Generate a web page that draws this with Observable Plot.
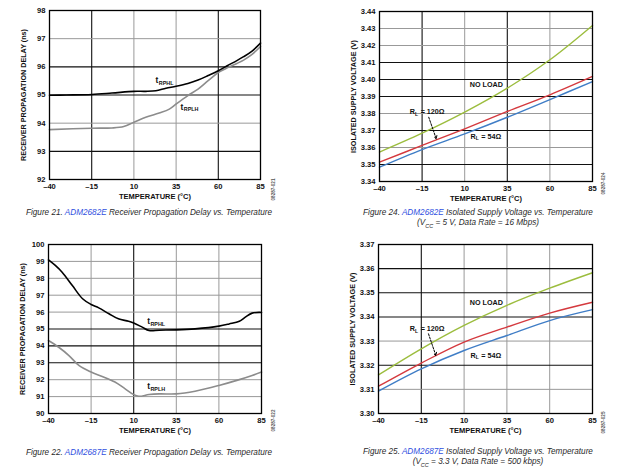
<!DOCTYPE html>
<html><head><meta charset="utf-8">
<script src="https://cdn.jsdelivr.net/npm/d3@7"></script>
<script src="https://cdn.jsdelivr.net/npm/@observablehq/plot@0.6"></script>
<style>
body{margin:0;background:#fff;}
#root{position:relative;width:620px;height:473px;overflow:hidden;background:#fff;}
.panel{position:absolute;}
.cap{position:absolute;font-family:"Liberation Sans",Arial,sans-serif;font-style:italic;font-size:8.2px;line-height:10px;color:#2a2a2a;text-align:center;white-space:nowrap;}
.cap .p{color:#3050e0;}
</style></head><body><div id="root"></div>
<script>
// ---------- data ----------
const xTicks = [-40, -15, 10, 35, 60, 85];

// Figure 21: ADM2682E receiver propagation delay (ns)
const f21TempHL = [-40, -30, -15, -3, 10, 17, 23, 29, 35, 42, 48, 54, 60, 65, 71, 75, 80, 85];
const f21RPHL   = [94.99, 95.0, 95.02, 95.07, 95.13, 95.13, 95.15, 95.24, 95.31, 95.41, 95.53, 95.69, 95.86, 96.03, 96.22, 96.36, 96.56, 96.84];
const f21TempLH = [-40, -15, -3, 4, 10, 17, 25, 31, 35, 42, 48, 54, 60, 66, 71, 75, 80, 85];
const f21RPLH   = [93.77, 93.82, 93.83, 93.88, 94.03, 94.21, 94.36, 94.5, 94.68, 94.98, 95.21, 95.51, 95.8, 95.98, 96.12, 96.24, 96.44, 96.72];
const f21YTicks = [92, 93, 94, 95, 96, 97, 98];

// Figure 22: ADM2687E receiver propagation delay (ns)
const f22TempHL = [-40, -36, -32, -26, -20, -15, -10.5, -4.5, 1, 7, 10, 15, 19, 25, 35, 46, 60, 66, 72, 75.5, 79.5, 85];
const f22RPHL   = [99.09, 98.76, 98.36, 97.57, 96.79, 96.45, 96.25, 95.9, 95.6, 95.46, 95.35, 95.11, 94.91, 94.93, 94.95, 95.01, 95.17, 95.3, 95.46, 95.7, 95.94, 95.98];
const f22TempLH = [-40, -34, -28, -22, -15, -8.5, -1, 5, 10, 13, 19, 25, 35, 46, 60, 71.5, 79.5, 85];
const f22RPLH   = [94.32, 93.92, 93.43, 92.83, 92.45, 92.19, 91.86, 91.46, 91.12, 91.02, 91.12, 91.16, 91.16, 91.32, 91.66, 91.99, 92.25, 92.45];
const f22YTicks = [90, 91, 92, 93, 94, 95, 96, 97, 98, 99, 100];

// Figure 24: ADM2682E isolated supply voltage (V), VCC = 5 V
const f24Temp   = [-40, -15, 10, 35, 60, 85];
const f24NoLoad = [3.3573, 3.3684, 3.3808, 3.3949, 3.4116, 3.4318];
const f24R120   = [3.3514, 3.3612, 3.3710, 3.3812, 3.3910, 3.4018];
const f24R54    = [3.3484, 3.3588, 3.3680, 3.3778, 3.3882, 3.3988];
const f24YTicks = [3.34, 3.35, 3.36, 3.37, 3.38, 3.39, 3.40, 3.41, 3.42, 3.43, 3.44];

// Figure 25: ADM2687E isolated supply voltage (V), VCC = 3.3 V
const f25Temp   = [-40, -15, 10, 35, 60, 85];
const f25NoLoad = [3.3160, 3.3268, 3.3365, 3.3448, 3.3519, 3.3583];
const f25R120   = [3.3113, 3.3209, 3.3296, 3.3358, 3.3416, 3.3461];
const f25R54    = [3.3093, 3.3185, 3.3261, 3.3323, 3.3385, 3.3430];
const f25YTicks = [3.30, 3.31, 3.32, 3.33, 3.34, 3.35, 3.36, 3.37];

// annotation anchors (data coordinates: temperature, value)
const f21LabelTemp = [22.8, 37.6], f21LabelVal = [95.52, 94.57], delayLabelSub = ["RPHL", "RPLH"];
const f22LabelTemp = [17.9, 17.9], f22LabelVal = [95.44, 91.60];
const f24LabelTemp = [13.0, -22.2, 13.4], f24LabelVal = [3.3971, 3.3808, 3.3665];
const f25LabelTemp = [13.3, -21.7, 13.7], f25LabelVal = [3.3458, 3.3351, 3.3240];
const loadLabelText = ["NO LOAD", "R", "R"], loadLabelSub = ["", "L", "L"], loadLabelRest = ["", "= 120Ω", "= 54Ω"];
const f24Arrow = [-11.1, 3.3778, -6.7, 3.3651];
const f25Arrow = [-10.8, 3.3330, -6.5, 3.3240];

// ---------- drawing ----------
const FONT = '"Liberation Sans", Arial, Helvetica, sans-serif';
const dash = d => d < 0 ? "\u2013" + Math.abs(d) : String(d);

function makePanel(cfg) {
  const {w, h, ml, mr, mt, mb, yDomain, yTicks, yFmt, yLabel, darkX, darkY, series, code, codeDy, codeDx, extra} = cfg;
  const isDark = (arr, v) => arr.some(a => Math.abs(a - v) < 1e-9);
  const innerX = xTicks.slice(1, -1);
  const innerY = yTicks.slice(1, -1);
  const marks = [
    Plot.ruleX(innerX, {stroke: d => isDark(darkX, d) ? "#111" : "#999", strokeWidth: d => isDark(darkX, d) ? 1.1 : 1}),
    Plot.ruleY(innerY, {stroke: d => isDark(darkY, d) ? "#111" : "#999", strokeWidth: d => isDark(darkY, d) ? 1.1 : 1}),
    ...series.map(s => Plot.line(s.t.map((t, i) => ({t, v: s.v[i]})), {x: "t", y: "v", stroke: s.color, strokeWidth: s.width, curve: "catmull-rom"})),
    Plot.frame({stroke: "#000", strokeWidth: 1.3}),
    Plot.axisX({ticks: xTicks, tickSize: 0, tickPadding: 4, tickFormat: dash, label: null}),
    Plot.axisY({ticks: yTicks, tickSize: 0, tickPadding: 4, tickFormat: yFmt, label: null}),
    Plot.text(["TEMPERATURE (°C)"], {frameAnchor: "bottom", dy: 17, text: d => d, fontSize: 7.5, fontWeight: "bold", lineAnchor: "middle"}),
    Plot.text([yLabel], {frameAnchor: "left", dx: -26, rotate: -90, text: d => d, fontSize: 7.2, fontWeight: "bold", textAnchor: "middle", lineAnchor: "middle"}),
    Plot.text([code], {frameAnchor: "bottom-right", dx: codeDx, dy: codeDy, rotate: -90, text: d => d, fontSize: 4.6, fill: "#555", textAnchor: "middle", lineAnchor: "middle"}),
    ...extra
  ];
  return Plot.plot({
    width: w, height: h, marginLeft: ml, marginRight: mr, marginTop: mt, marginBottom: mb,
    x: {domain: [-40, 85], label: null},
    y: {domain: yDomain, label: null},
    style: {fontFamily: FONT, fontSize: "7.6px", fontWeight: "bold", color: "#111", background: "transparent", overflow: "visible"},
    marks
  });
}

function delayLabels(tArr, vArr) {
  const idx = tArr.map((_, i) => i);
  return [
    Plot.text(idx, {x: i => tArr[i], y: i => vArr[i], text: () => "t", textAnchor: "start", fontSize: 8.5, fontWeight: "bold"}),
    Plot.text(idx, {x: i => tArr[i], y: i => vArr[i], text: i => delayLabelSub[i], textAnchor: "start", dx: 3.3, dy: 2.6, fontSize: 5.4, fontWeight: "bold"})
  ];
}
function loadLabels(tArr, vArr, arrow) {
  const idx = tArr.map((_, i) => i);
  return [
    Plot.text(idx, {x: i => tArr[i], y: i => vArr[i], text: i => loadLabelText[i], textAnchor: "start", fontSize: 7.2, fontWeight: "bold"}),
    Plot.text(idx, {x: i => tArr[i], y: i => vArr[i], text: i => loadLabelSub[i], textAnchor: "start", dx: 5.2, dy: 2.2, fontSize: 5, fontWeight: "bold"}),
    Plot.text(idx, {x: i => tArr[i], y: i => vArr[i], text: i => loadLabelRest[i], textAnchor: "start", dx: 10.8, fontSize: 7.2, fontWeight: "bold"}),
    Plot.arrow([arrow], {x1: d => d[0], y1: d => d[1], x2: d => d[2], y2: d => d[3], stroke: "#000", strokeWidth: 1, strokeDasharray: "2,1.4", headLength: 5})
  ];
}

const root = document.getElementById("root");
function place(svg, left, top) {
  const d = document.createElement("div");
  d.className = "panel"; d.style.left = left + "px"; d.style.top = top + "px";
  d.appendChild(svg); root.appendChild(d);
}
function caption(html, left, top, width) {
  const d = document.createElement("div");
  d.className = "cap"; d.style.left = left + "px"; d.style.top = top + "px"; d.style.width = width + "px";
  d.innerHTML = html; root.appendChild(d);
}

const int = d => String(d);
const two = d3.format(".2f");

place(makePanel({
  w: 310, h: 230, ml: 49, mr: 50, mt: 10, mb: 51,
  yDomain: [92, 98], yTicks: f21YTicks, yFmt: int, yLabel: "RECEIVER PROPAGATION DELAY (ns)",
  darkX: [-15, 60], darkY: [96, 95, 93],
  series: [
    {t: f21TempLH, v: f21RPLH, color: "#8c8c8c", width: 1.6},
    {t: f21TempHL, v: f21RPHL, color: "#000", width: 1.6}
  ],
  code: "08287-021", codeDx: 13, codeDy: 10,
  extra: delayLabels(f21LabelTemp, f21LabelVal)
}), 0, 0);

place(makePanel({
  w: 310, h: 230, ml: 69, mr: 28, mt: 11, mb: 49,
  yDomain: [3.34, 3.44], yTicks: f24YTicks, yFmt: two, yLabel: "ISOLATED SUPPLY VOLTAGE (V)",
  darkX: [-15, 35], darkY: [3.41, 3.40, 3.39, 3.37, 3.35],
  series: [
    {t: f24Temp, v: f24NoLoad, color: "#9cbd3e", width: 1.4},
    {t: f24Temp, v: f24R120, color: "#d4393e", width: 1.4},
    {t: f24Temp, v: f24R54, color: "#3f7dc6", width: 1.4}
  ],
  code: "08287-024", codeDx: 11, codeDy: 2,
  extra: loadLabels(f24LabelTemp, f24LabelVal, f24Arrow)
}), 310, 0);

place(makePanel({
  w: 310, h: 243, ml: 48, mr: 49, mt: 14, mb: 60,
  yDomain: [90, 100], yTicks: f22YTicks, yFmt: int, yLabel: "RECEIVER PROPAGATION DELAY (ns)",
  darkX: [10], darkY: [95, 94, 93],
  series: [
    {t: f22TempLH, v: f22RPLH, color: "#8c8c8c", width: 1.6},
    {t: f22TempHL, v: f22RPHL, color: "#000", width: 1.6}
  ],
  code: "08287-022", codeDx: 12, codeDy: 7,
  extra: delayLabels(f22LabelTemp, f22LabelVal)
}), 0, 230);

place(makePanel({
  w: 310, h: 243, ml: 68, mr: 28, mt: 14, mb: 60,
  yDomain: [3.30, 3.37], yTicks: f25YTicks, yFmt: two, yLabel: "ISOLATED SUPPLY VOLTAGE (V)",
  darkX: [-15], darkY: [3.36, 3.35, 3.34, 3.32],
  series: [
    {t: f25Temp, v: f25NoLoad, color: "#9cbd3e", width: 1.4},
    {t: f25Temp, v: f25R120, color: "#d4393e", width: 1.4},
    {t: f25Temp, v: f25R54, color: "#3f7dc6", width: 1.4}
  ],
  code: "08287-025", codeDx: 11, codeDy: 9,
  extra: loadLabels(f25LabelTemp, f25LabelVal, f25Arrow)
}), 310, 230);

caption('Figure 21. <span class="p">ADM2682E</span> Receiver Propagation Delay vs. Temperature', 0, 208, 298);
caption('Figure 24. <span class="p">ADM2682E</span> Isolated Supply Voltage vs. Temperature<br>(V<sub style="font-size:5.5px">CC</sub> = 5 V, Data Rate = 16 Mbps)', 330, 208, 296);
caption('Figure 22. <span class="p">ADM2687E</span> Receiver Propagation Delay vs. Temperature', 0, 448, 298);
caption('Figure 25. <span class="p">ADM2687E</span> Isolated Supply Voltage vs. Temperature<br>(V<sub style="font-size:5.5px">CC</sub> = 3.3 V, Data Rate = 500 kbps)', 330, 447, 296);
</script></body></html>
